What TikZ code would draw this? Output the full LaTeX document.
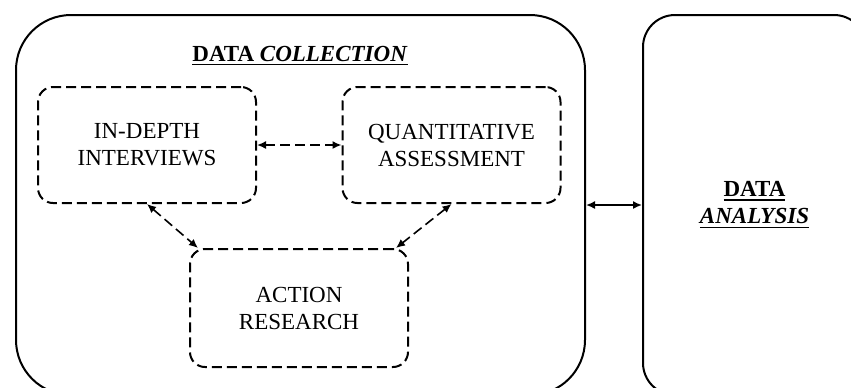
\documentclass[tikz,border=0pt]{standalone}
\usepackage{fontspec}
\setmainfont{Liberation Serif}
\usetikzlibrary{arrows.meta}

% thick underline for the headings
\newcommand{\ulined}[1]{\leavevmode\vtop{\hbox{#1}\kern1.2pt\hrule height 0.8pt}}

\begin{document}
\begin{tikzpicture}[x=0.5pt, y=0.5pt,
  every node/.style={font=\fontsize{11.5}{13.5}\selectfont, align=center},
  outerbox/.style={draw, line width=1pt, rounded corners=27.5pt, minimum height=190pt},
  phasebox/.style={draw, line width=1pt, dash pattern=on 5pt off 2.5pt, rounded corners=7.5pt, minimum width=109pt, minimum height=58pt},
  tip/.style={{Latex[length=4.5pt,width=4pt]}-{Latex[length=4.5pt,width=4pt]}, line width=0.8pt},
  link/.style={tip, dash pattern=on 5pt off 2.5pt}]

        % page frame, the big boxes run off the bottom and the right edge
        \useasboundingbox (0,0) rectangle (851,-387);
        \clip (0,0) rectangle (851,-387);

        % the two big stages
        \node[outerbox, minimum width=284.5pt] (collection) at (300.5,-205) {};
        \node[outerbox, rounded corners=16pt, minimum width=111.5pt] (analysis) at (754.5,-205) {\ulined{\textbf{DATA}}\\ \ulined{\textbf{\textit{ANALYSIS}}}};
        \node[anchor=base] (title) at (300,-61) {\ulined{\textbf{DATA \textit{COLLECTION}}}};

        % the three methods inside data collection
        \node[phasebox] (interviews) at (147,-145) {IN-DEPTH\\INTERVIEWS};
        \node[phasebox] (quant) at (451.5,-145) {QUANTITATIVE\\ASSESSMENT};
        \node[phasebox, minimum height=59pt] (action) at (299,-308) {ACTION\\RESEARCH};

        % links between the methods
        \draw[link] (interviews.east) -- (quant.west);
        \draw[link] (interviews.south) -- ([xshift=4.5pt]action.north west);
        \draw[link] (quant.south) -- ([xshift=-6.5pt]action.north east);

        % collection <-> analysis
        \draw[tip] (collection.east) -- (analysis.west);

\end{tikzpicture}
\end{document}
